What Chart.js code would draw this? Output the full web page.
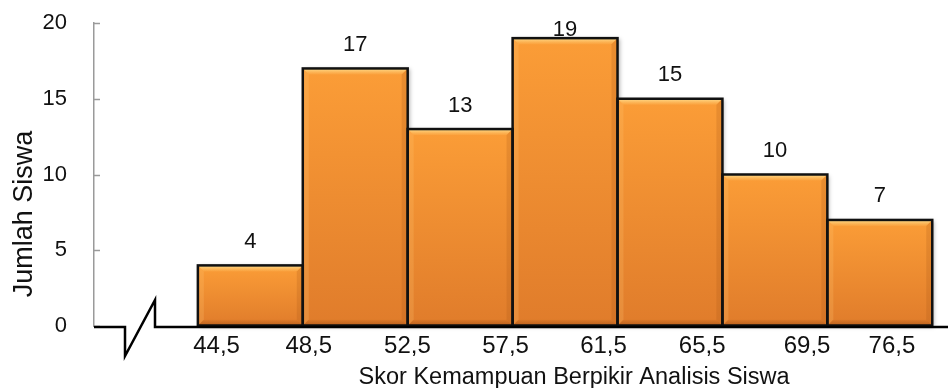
<!DOCTYPE html>
<html>
<head>
<meta charset="utf-8">
<script src="https://cdn.jsdelivr.net/npm/chart.js@4/dist/chart.umd.min.js"></script>
<style>
  html, body { margin: 0; padding: 0; background: #ffffff; }
  #wrap { width: 948px; height: 388px; }
</style>
</head>
<body>
<div id="wrap"><canvas id="c" width="948" height="388"></canvas></div>
<script>
// Class boundaries (tick labels), frequencies per class and y ticks
const classEdges = ['44,5', '48,5', '52,5', '57,5', '61,5', '65,5', '69,5', '76,5'];
const frequencies = [4, 17, 13, 19, 15, 10, 7];
const yTicks = [0, 5, 10, 15, 20];
const xTitle = 'Skor Kemampuan Berpikir Analisis Siswa';
const yTitle = 'Jumlah Siswa';

const FONT = "'Liberation Sans', Arial, sans-serif";
// small horizontal shifts (px) of the boundary labels
const edgeNudge = [18.7, 6, -0.3, -7, -14, -20.3, -20.3, -40.3];

// each class sits between boundary i and i+1
const barPoints = frequencies.map((v, i) => ({ x: i + 0.5, y: v }));

const histogramDecor = {
  id: 'histogramDecor',
  afterDatasetsDraw(chart) {
    const ctx = chart.ctx;
    const meta = chart.getDatasetMeta(0);
    const rects = meta.data.map(bar => {
      const p = bar.getProps(['x', 'y', 'base', 'width'], true);
      return { L: p.x - p.width / 2, R: p.x + p.width / 2, T: p.y, B: p.base, cx: p.x };
    });

    // body fill with soft shadow
    rects.forEach(r => {
      ctx.save();
      ctx.shadowColor = 'rgba(0,0,0,0.28)';
      ctx.shadowBlur = 4;
      ctx.shadowOffsetX = 2;
      ctx.shadowOffsetY = 1;
      const g = ctx.createLinearGradient(0, r.T, 0, r.B);
      g.addColorStop(0, '#FB9D37');
      g.addColorStop(1, '#E07C2B');
      ctx.fillStyle = g;
      ctx.fillRect(r.L, r.T, r.R - r.L, r.B - r.T);
      ctx.restore();
    });

    // bevel edges
    const bw = 6;
    rects.forEach(r => {
      const { L, R, T, B } = r;
      ctx.save();
      let g = ctx.createLinearGradient(0, T, 0, T + bw);
      g.addColorStop(0, 'rgba(255,228,150,0.95)');
      g.addColorStop(1, 'rgba(255,200,110,0.15)');
      ctx.fillStyle = g;
      ctx.beginPath();
      ctx.moveTo(L, T); ctx.lineTo(R, T); ctx.lineTo(R - bw, T + bw); ctx.lineTo(L + bw, T + bw);
      ctx.closePath(); ctx.fill();

      g = ctx.createLinearGradient(0, B, 0, B - bw);
      g.addColorStop(0, 'rgba(150,72,18,0.55)');
      g.addColorStop(1, 'rgba(150,72,18,0.05)');
      ctx.fillStyle = g;
      ctx.beginPath();
      ctx.moveTo(L, B); ctx.lineTo(R, B); ctx.lineTo(R - bw, B - bw); ctx.lineTo(L + bw, B - bw);
      ctx.closePath(); ctx.fill();

      ctx.fillStyle = 'rgba(255,200,120,0.22)';
      ctx.beginPath();
      ctx.moveTo(L, T); ctx.lineTo(L + bw, T + bw); ctx.lineTo(L + bw, B - bw); ctx.lineTo(L, B);
      ctx.closePath(); ctx.fill();

      ctx.fillStyle = 'rgba(170,85,25,0.22)';
      ctx.beginPath();
      ctx.moveTo(R, T); ctx.lineTo(R - bw, T + bw); ctx.lineTo(R - bw, B - bw); ctx.lineTo(R, B);
      ctx.closePath(); ctx.fill();
      ctx.restore();
    });

    // outlines
    ctx.save();
    ctx.strokeStyle = '#111111';
    ctx.lineWidth = 2.5;
    rects.forEach(r => ctx.strokeRect(r.L, r.T, r.R - r.L, r.B - r.T));
    ctx.restore();
  },
  afterDraw(chart) {
    const ctx = chart.ctx;
    const area = chart.chartArea;
    const xs = chart.scales.x;
    const ys = chart.scales.y;
    ctx.save();

    // inner tick marks on the value axis
    ctx.strokeStyle = '#9a9a9a';
    ctx.lineWidth = 1.5;
    yTicks.forEach(v => {
      const py = Math.round(ys.getPixelForValue(v)) + 0.5;
      ctx.beginPath();
      ctx.moveTo(area.left, py);
      ctx.lineTo(area.left + 6, py);
      ctx.stroke();
    });

    // category axis with break mark
    const y0 = area.bottom + 1;
    const b1 = area.left + 31, b2 = area.left + 61;
    ctx.strokeStyle = '#000000';
    ctx.lineWidth = 2.5;
    ctx.lineJoin = 'miter';
    ctx.beginPath();
    ctx.moveTo(area.left, y0);
    ctx.lineTo(b1, y0);
    ctx.lineTo(b1, y0 + 29);
    ctx.lineTo(b2, y0 - 27);
    ctx.lineTo(b2, y0);
    ctx.lineTo(chart.width, y0);
    ctx.stroke();

    // boundary labels
    ctx.fillStyle = '#111111';
    ctx.font = '24px ' + FONT;
    ctx.textAlign = 'center';
    ctx.textBaseline = 'alphabetic';
    classEdges.forEach((lab, k) => {
      ctx.fillText(lab, xs.getPixelForValue(k) + edgeNudge[k], area.bottom + 26.5);
    });

    // value labels above bars
    ctx.font = '22px ' + FONT;
    const meta = chart.getDatasetMeta(0);
    meta.data.forEach((bar, i) => {
      const p = bar.getProps(['x', 'y'], true);
      const ty = Math.max(p.y - 17.5, area.top + 13);
      ctx.fillText(String(frequencies[i]), p.x, ty);
    });

    // axis titles
    ctx.font = '23.5px ' + FONT;
    ctx.fillText(xTitle, xs.getPixelForValue(3.5) + 9, area.bottom + 58);

    ctx.save();
    ctx.translate(31.5, area.top + 191);
    ctx.rotate(-Math.PI / 2);
    ctx.font = '27px ' + FONT;
    ctx.textAlign = 'center';
    ctx.textBaseline = 'alphabetic';
    ctx.fillText(yTitle, 0, 0);
    ctx.restore();

    ctx.restore();
  }
};

new Chart(document.getElementById('c'), {
  type: 'bar',
  data: {
    datasets: [{
      data: barPoints,
      backgroundColor: 'rgba(0,0,0,0)',
      borderWidth: 0,
      categoryPercentage: 1,
      barPercentage: 1
    }]
  },
  options: {
    responsive: false,
    animation: false,
    devicePixelRatio: 1,
    layout: { padding: { top: 23, right: 0, bottom: 62, left: 0 } },
    plugins: {
      legend: { display: false },
      tooltip: { enabled: false }
    },
    scales: {
      x: {
        type: 'linear',
        min: -0.99,
        max: 7.15,
        offset: false,
        display: false,
        grid: { offset: false },
        afterBuildTicks: s => { s.ticks = classEdges.map((_, k) => ({ value: k })); }
      },
      y: {
        min: 0,
        max: 20,
        afterBuildTicks: s => { s.ticks = yTicks.map(v => ({ value: v })); },
        afterFit: s => { s.width = 94; s.paddingTop = 0; s.paddingBottom = 0; },
        grid: { display: true, drawOnChartArea: false, drawTicks: true, tickLength: 27, tickColor: 'rgba(0,0,0,0)' },
        border: { display: true, color: '#9a9a9a', width: 1.5 },
        ticks: { padding: 0, color: '#111111', font: { family: FONT, size: 22 } }
      }
    }
  },
  plugins: [histogramDecor]
});
</script>
</body>
</html>
